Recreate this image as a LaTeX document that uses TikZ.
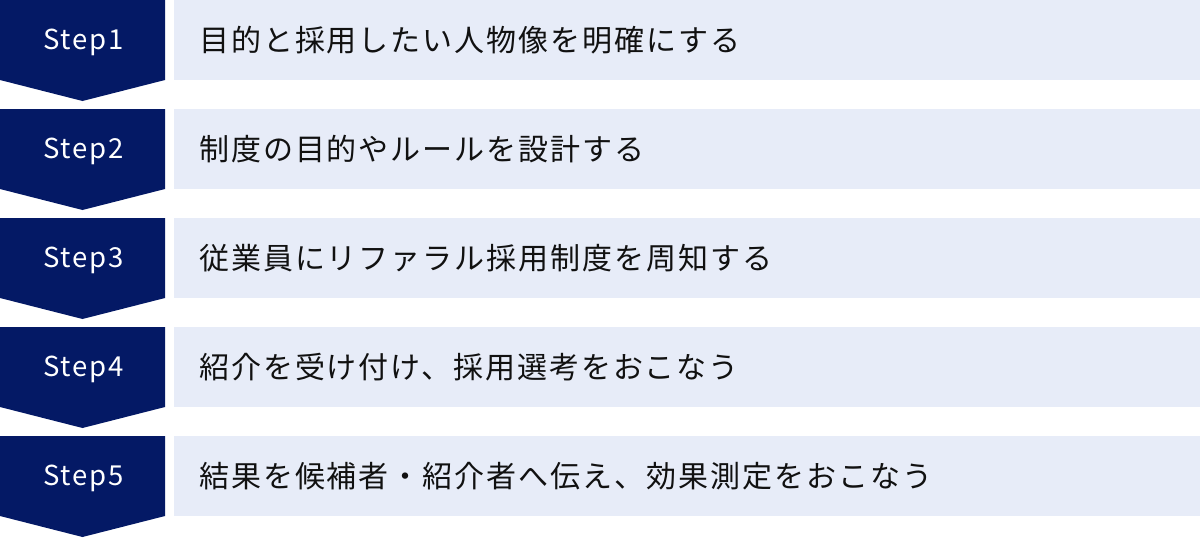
\documentclass[tikz,border=0pt]{standalone}
\usepackage{fontspec}
\setmainfont{Noto Sans CJK JP}
\newfontfamily\jpfont[LetterSpace=6.5]{Noto Sans CJK JP}
\newfontfamily\stepfont[LetterSpace=6]{Noto Sans CJK JP}
\definecolor{navy}{HTML}{041965}
\definecolor{pale}{HTML}{E7ECF8}
\definecolor{ink}{HTML}{111111}
\tikzset{
  x=1pt, y=-1pt,
  chevron/.style={fill=navy, draw=none},
  panel/.style={fill=pale, draw=none},
  steplabel/.style={text=white, font=\stepfont\fontsize{27.5}{27.5}\selectfont, inner sep=0pt, anchor=center},
  desc/.style={text=ink, font=\jpfont\fontsize{30}{30}\selectfont, inner sep=0pt, anchor=west},
}
\begin{document}
\begin{tikzpicture}
\useasboundingbox (0,0) rectangle (1200,538);
\foreach \i/\t [count=\k] in {0/{目的と採用したい人物像を明確にする},
  109/{制度の目的やルールを設計する},
  218/{従業員にリファラル採用制度を周知する},
  327/{紹介を受け付け、採用選考をおこなう},
  436/{結果を候補者・紹介者へ伝え、効果測定をおこなう}}{
  \fill[chevron] (0,\i) -- (165,\i) -- (165,\i+80) -- (82.5,\i+101) -- (0,\i+80) -- cycle;
  \fill[panel] (174,\i) rectangle (1200,\i+80);
  \node[steplabel] (s\k) at (83.5,\i+42.5) {Step\k};
  \node[desc] (d\k) at (199,\i+40.5) {\t};
}
\end{tikzpicture}
\end{document}
